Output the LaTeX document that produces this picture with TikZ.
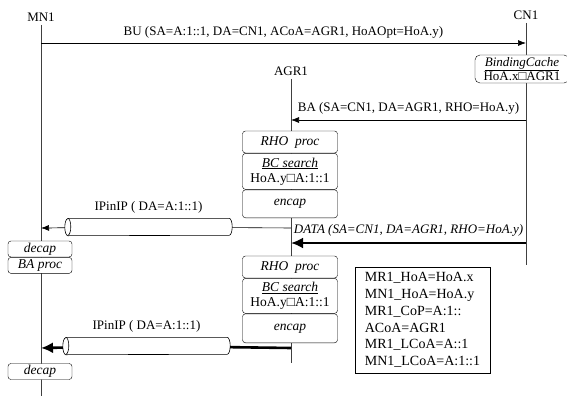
\documentclass[tikz,border=0pt]{standalone}
\usepackage{fontspec}
\setmainfont{Liberation Serif}
\usetikzlibrary{arrows.meta,positioning}
\newcommand{\boxfont}{\fontsize{13.5}{15}\selectfont}
\newcommand{\sq}{□}
% tube outline round a named node
\newcommand{\tube}[1]{%
  \draw[line width=0.6pt, fill=white]
    ([xshift=3pt]#1.north west) -- ([xshift=-3pt]#1.north east)
    arc[start angle=90, end angle=-90, x radius=3pt, y radius=8.5pt]
    -- ([xshift=3pt]#1.south west)
    arc[start angle=270, end angle=90, x radius=3pt, y radius=8.5pt] -- cycle;
  \draw[line width=0.6pt] ([xshift=3pt]#1.north west)
    arc[start angle=90, end angle=-90, x radius=3pt, y radius=8.5pt];}

\begin{document}
\begin{tikzpicture}[x=1pt, y=-1pt,
  font=\fontsize{13}{15}\selectfont,
  life/.style={draw=black!75, line width=0.7pt},
  proc/.style={draw, rounded corners=3pt, fill=white, align=center,
               minimum width=95pt, inner sep=1pt, font=\boxfont},
  mproc/.style={proc, minimum width=64pt, minimum height=16pt,
                font=\boxfont\itshape},
  msg/.style={-{Latex[length=8pt,width=6pt]}, line width=0.7pt},
  bigmsg/.style={-{Latex[length=12pt,width=11pt]}, line width=2.6pt},
  tunnel/.style={minimum width=167pt, minimum height=17pt, inner sep=0pt},
  legend/.style={draw, align=left, inner xsep=10pt, inner ysep=6pt,
                 font=\fontsize{14}{16.7}\selectfont}]
\useasboundingbox (0,0) rectangle (567,396);

% entities and lifelines
\node (mn1)  at (41,17)  {MN1};
\node (cn1)  at (526,15) {CN1};
\node (agr1) at (291,71) {AGR1};
\coordinate (mn1end)  at (41,396);
\coordinate (cn1end)  at (526,265);
\coordinate (agr1end) at (291,363);
\draw[life] (mn1) -- (mn1end);
\draw[life] (cn1) -- (cn1end);
\draw[life] (agr1) -- (agr1end);

% binding update
\coordinate (bu0) at (41,43);
\coordinate (bu1) at (526,43);
\draw[msg] (bu0) -- node[above=1pt] {BU (SA=A:1::1, DA=CN1, ACoA=AGR1, HoAOpt=HoA.y)} (bu1);
\node[proc, rounded corners=5pt, minimum width=94pt, minimum height=28pt,
      inner sep=0.5pt, font=\fontsize{13}{12.5}\selectfont]
  (bcache) at (522,69) {\underline{\textit{BindingCache}}\\HoA.x\sq AGR1};

% binding ack
\coordinate (ba0) at (526,120);
\coordinate (ba1) at (291,120);
\draw[msg] (ba0) -- node[above=2pt] {BA (SA=CN1, DA=AGR1, RHO=HoA.y)} (ba1);

% first processing at AGR1
\node[proc, minimum height=22pt] (rho1) at (290,142) {\textit{RHO\ \ proc}};
\node[proc, minimum height=36pt, below=0pt of rho1] (bcs1)
  {\underline{\textit{BC search}}\\HoA.y\sq A:1::1};
\node[proc, minimum height=28pt, below=0pt of bcs1] (enc1) {\textit{encap}};

% first tunnel
\coordinate (ip1a) at (291,228);
\coordinate (ip1b) at (41,228);
\node[tunnel] (tun1) at (148.5,227) {};
\tube{tun1}
\node[above=2pt of tun1] {IPinIP ( DA=A:1::1)};
\draw[line width=0.6pt] (ip1a) -- (tun1);
\draw[msg] (tun1) -- (ip1b);

% data from CN1
\coordinate (dat0) at (526,243);
\coordinate (dat1) at (291,243);
\draw[bigmsg] (dat0) -- node[above=2pt] {\textit{DATA (SA=CN1, DA=AGR1, RHO=HoA.y)}} (dat1);

% processing at MN1
\node[mproc] (dec1) at (40,249) {decap};
\node[mproc, below=0pt of dec1] (bap) {BA proc};

% second processing at AGR1
\node[proc, minimum height=22pt] (rho2) at (290,267) {\textit{RHO\ \ proc}};
\node[proc, minimum height=35pt, below=0pt of rho2] (bcs2)
  {\underline{\textit{BC search}}\\HoA.y\sq A:1::1};
\node[proc, minimum height=29pt, below=0pt of bcs2] (enc2) {\textit{encap}};

% second tunnel
\coordinate (ip2a) at (291,348);
\coordinate (ip2b) at (41,348);
\node[tunnel] (tun2) at (146.5,346) {};
\tube{tun2}
\node[above=2pt of tun2] {IPinIP ( DA=A:1::1)};
\draw[line width=2.6pt] (ip2a) -- (tun2);
\draw[bigmsg] (tun2) -- (ip2b);
\node[mproc] (dec2) at (40,371.5) {decap};

% address table
\node[legend] (tab) at (422.5,320)
  {MR1\_HoA=HoA.x\\MN1\_HoA=HoA.y\\MR1\_CoP=A:1::\\ACoA=AGR1\\MR1\_LCoA=A::1\\MN1\_LCoA=A:1::1};
\end{tikzpicture}
\end{document}
